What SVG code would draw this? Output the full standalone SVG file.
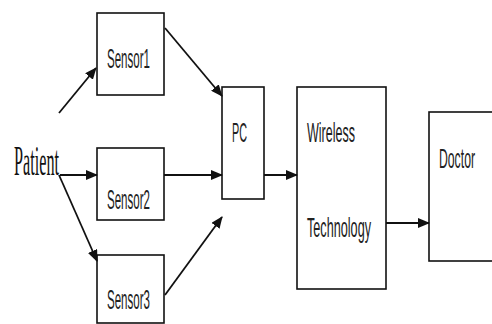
<svg xmlns="http://www.w3.org/2000/svg" width="492" height="324" viewBox="0 0 492 324">
<defs>
<marker id="ah" markerUnits="userSpaceOnUse" markerWidth="12" markerHeight="10" refX="11" refY="5" orient="auto">
<path d="M0,0 L12,5 L0,10 z" fill="#111"/>
</marker>
<style>
.box{fill:#fff;stroke:#111;stroke-width:1.6}
.lbl{font-family:"Liberation Sans Narrow","Liberation Sans",Arial,sans-serif;fill:#222;font-size:28px}
.ser{font-family:"Liberation Serif","Times New Roman",serif;fill:#111;font-size:42px}
.con{stroke:#111;stroke-width:1.8;fill:none;marker-end:url(#ah)}
</style>
</defs>
<rect width="492" height="324" fill="#fff"/>
<g id="patient"><text class="ser" x="14" y="175" textLength="45" lengthAdjust="spacingAndGlyphs">Patient</text></g>
<g id="sensor1"><rect class="box" x="97" y="13" width="67" height="82"/><text class="lbl" x="107" y="68" textLength="43" lengthAdjust="spacingAndGlyphs">Sensor1</text></g>
<g id="sensor2"><rect class="box" x="97" y="148" width="67" height="72"/><text class="lbl" x="107" y="209" textLength="43" lengthAdjust="spacingAndGlyphs">Sensor2</text></g>
<g id="sensor3"><rect class="box" x="97" y="255" width="67" height="68"/><text class="lbl" x="107" y="309" textLength="43" lengthAdjust="spacingAndGlyphs">Sensor3</text></g>
<g id="pc"><rect class="box" x="222" y="87" width="42" height="112"/><text class="lbl" x="232" y="142" textLength="15" lengthAdjust="spacingAndGlyphs">PC</text></g>
<g id="wireless"><rect class="box" x="297" y="87" width="89" height="202"/><text class="lbl" x="307" y="142" font-size="27" textLength="48" lengthAdjust="spacingAndGlyphs">Wireless</text><text class="lbl" x="307" y="237" textLength="64" lengthAdjust="spacingAndGlyphs">Technology</text></g>
<g id="doctor"><rect class="box" x="429" y="112" width="70" height="149"/><text class="lbl" x="439" y="168" font-size="25" textLength="36" lengthAdjust="spacingAndGlyphs">Doctor</text></g>
<g id="connectors">
<line class="con" x1="59" y1="113" x2="96" y2="68"/>
<line class="con" x1="165" y1="28" x2="222" y2="96"/>
<line class="con" x1="60" y1="175" x2="97" y2="175"/>
<line class="con" x1="164" y1="175" x2="222" y2="175"/>
<line class="con" x1="59" y1="175" x2="97" y2="261"/>
<line class="con" x1="165" y1="295" x2="222" y2="217"/>
<line class="con" x1="264" y1="175" x2="297" y2="175"/>
<line class="con" x1="386" y1="223" x2="429" y2="223"/>
</g>
</svg>
